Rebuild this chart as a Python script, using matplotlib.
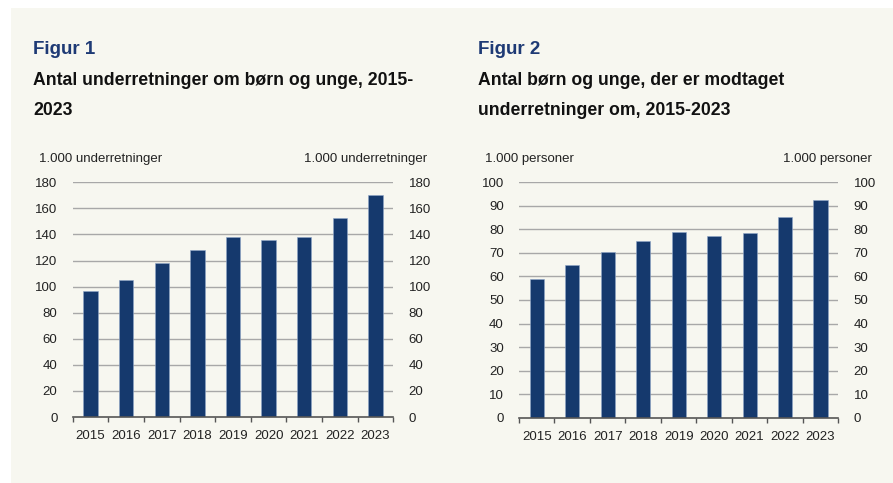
import matplotlib
matplotlib.use("Agg")
import matplotlib.pyplot as plt
from matplotlib.patches import Rectangle
import numpy as np

plt.rcParams['font.family'] = ['Liberation Sans', 'DejaVu Sans']

years = ["2015", "2016", "2017", "2018", "2019", "2020", "2021", "2022", "2023"]
underretninger = [97, 105, 118, 128, 138, 136, 138, 153, 170]
personer = [59, 65, 70.4, 75.2, 79, 77.3, 78.3, 85.3, 92.4]

fig1_label = "Figur 1"
fig1_title = "Antal underretninger om børn og unge, 2015-\n2023"
fig1_unit = "1.000 underretninger"
fig1_ticks = [0, 20, 40, 60, 80, 100, 120, 140, 160, 180]

fig2_label = "Figur 2"
fig2_title = "Antal børn og unge, der er modtaget\nunderretninger om, 2015-2023"
fig2_unit = "1.000 personer"
fig2_ticks = [0, 10, 20, 30, 40, 50, 60, 70, 80, 90, 100]

W, H = 893, 483
BG = "#F7F7F0"
BAR = "#15396D"
TITLE_BLUE = "#1E3A75"

fig = plt.figure(figsize=(W / 100, H / 100), dpi=100)
fig.patch.set_facecolor("white")
fig.patches.append(Rectangle((11 / W, 0), 1 - 11 / W, 1 - 8 / H, transform=fig.transFigure,
                             facecolor=BG, edgecolor="none", zorder=-10))


def px(x, y):
    return x / W, 1 - y / H


def make_panel(left_px, right_px, top_px, bottom_px, values, ticks, label, title, unit,
               label_x, unit_left, unit_right):
    l, b = left_px / W, 1 - bottom_px / H
    w = (right_px - left_px) / W
    h = (bottom_px - top_px) / H
    ax = fig.add_axes([l, b, w, h])
    ax.set_facecolor("none")
    x = np.arange(len(years))
    ax.bar(x, values, width=0.4, color=BAR, edgecolor="#8FA6C8", linewidth=0.4, zorder=3)
    ax.set_xlim(-0.5, len(years) - 0.5)
    ax.set_ylim(0, ticks[-1])
    ax.set_yticks(ticks)
    ax.set_yticklabels([str(t) for t in ticks])
    ax.tick_params(axis="y", length=0, pad=11, labelsize=9.5, colors="#222222",
                   labelleft=True, labelright=True)
    for t in ticks[1:]:
        ax.axhline(t, color="#A8A8A8", linewidth=1.0, zorder=1)
    ax.set_xticks(x)
    ax.set_xticklabels(years)
    ax.tick_params(axis="x", which="major", length=0, pad=9.5, labelsize=9.5, colors="#222222")
    ax.set_xticks(np.arange(-0.5, len(years)), minor=True)
    ax.tick_params(axis="x", which="minor", length=3.5, width=1, color="#555555", direction="out")
    for s in ["left", "right", "top"]:
        ax.spines[s].set_visible(False)
    ax.spines["bottom"].set_color("#555555")
    ax.spines["bottom"].set_linewidth(1.2)
    ax.spines["bottom"].set_zorder(4)

    fx, fy = px(label_x, 50)
    fig.text(fx, fy, label, fontsize=13.5, fontweight="bold", color=TITLE_BLUE,
             ha="left", va="center")
    tx, ty = px(label_x, 95.5)
    fig.text(tx, ty, title, fontsize=12.7, fontweight="bold", color="#111111",
             ha="left", va="center", linespacing=2.0)
    ux, uy = px(unit_left, 159)
    fig.text(ux, uy, unit, fontsize=9.5, color="#222222", ha="left", va="center")
    ux2, _ = px(unit_right, 159)
    fig.text(ux2, uy, unit, fontsize=9.5, color="#222222", ha="right", va="center")
    return ax


make_panel(72.7, 393.3, 182.3, 417, underretninger, fig1_ticks, fig1_label, fig1_title,
           fig1_unit, 33, 39.3, 426.7)
make_panel(519, 838.3, 182.3, 417.7, personer, fig2_ticks, fig2_label, fig2_title,
           fig2_unit, 478.3, 485, 872.3)

fig.savefig("out.png", dpi=100, facecolor=fig.get_facecolor())
